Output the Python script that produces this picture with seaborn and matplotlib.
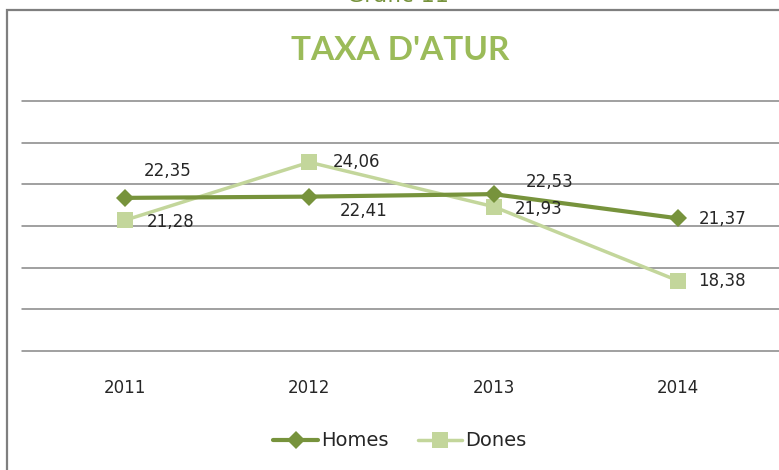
import numpy as np
import pandas as pd
import seaborn as sns
import matplotlib.pyplot as plt
from matplotlib.patches import Rectangle

years = ["2011", "2012", "2013", "2014"]
homes = [22.35, 22.41, 22.53, 21.37]
dones = [21.28, 24.06, 21.93, 18.38]

# label offsets in pixels (dx, dy) relative to each point
homes_offsets = [(42, 27), (54, -14), (56, 12), (45, -1)]
dones_offsets = [(45, -2), (47, 0), (45, -2), (44, 0)]

c_homes = "#77933C"
c_dones = "#C3D69B"
grid_c = "#868686"
text_c = "#262626"

sns.set_style("white")
plt.rcParams['font.family'] = ['DejaVu Sans']

W, H = 779, 470
fig = plt.figure(figsize=(W / 100, H / 100), dpi=100)
ax = fig.add_axes([22 / W, (H - 351) / H, (W - 22) / W, 250 / H])

x = np.arange(len(years))
df = pd.DataFrame({"x": np.concatenate([x, x]),
                   "val": homes + dones,
                   "serie": ["Homes"] * 4 + ["Dones"] * 4})

sns.lineplot(data=df[df.serie == "Homes"], x="x", y="val", ax=ax, color=c_homes,
             lw=3.0, marker="D", markersize=9.5, markeredgewidth=0, label="Homes",
             zorder=4)
sns.lineplot(data=df[df.serie == "Dones"], x="x", y="val", ax=ax, color=c_dones,
             lw=2.5, marker="s", markersize=11.5, markeredgewidth=0, label="Dones",
             zorder=3)

for vals, offs in ((homes, homes_offsets), (dones, dones_offsets)):
    for i, (v, (dx, dy)) in enumerate(zip(vals, offs)):
        ax.annotate(f"{v:.2f}".replace(".", ","), (i, v), xytext=(dx, dy),
                    textcoords="offset pixels", ha="center", va="center",
                    fontsize=12, color=text_c, zorder=5)

ax.set_xlim(-0.56, 3.55)
ax.set_ylim(15, 27)
ax.set_yticks(np.arange(15, 28, 2))
ax.set_yticklabels([])
ax.yaxis.grid(True, color=grid_c, lw=1.1)
ax.set_axisbelow(True)
for ln in ax.get_ygridlines():
    ln.set_clip_on(False)
ax.set_xticks(x)
ax.set_xticklabels(years, fontsize=12, color=text_c)
ax.tick_params(axis="x", length=0, pad=20)
ax.tick_params(axis="y", length=0)
ax.set_xlabel("")
ax.set_ylabel("")
sns.despine(ax=ax, left=True, bottom=True, top=True, right=True)

handles, labels = ax.get_legend_handles_labels()
ax.get_legend().remove()
fig.legend(handles, labels, loc="center", bbox_to_anchor=(400 / W, 1 - 441 / H),
           ncol=2, frameon=False, fontsize=14, handlelength=2.3,
           handletextpad=0.15, columnspacing=1.5, labelcolor=text_c)

# chart frame and title (the "Gràfic 11" caption is cut off at the top in the source)
fig.patches.append(Rectangle((7 / W, -0.1), 1.2, 1 - 10 / H + 0.1,
                             transform=fig.transFigure, fill=False,
                             edgecolor="#7F7F7F", lw=1.6))
fig.text(398 / W, 1 - 2 / H, "Gràfic 11", ha="center", va="baseline",
         fontsize=16, color=c_homes)
fig.text(400 / W, 1 - 51 / H, "TAXA D'ATUR", ha="center", va="center",
         fontsize=24, fontweight="bold", color="#9BBB59",
         family=["Liberation Sans Narrow", "Lato", "DejaVu Sans"])

fig.savefig("out.png", dpi=100)
